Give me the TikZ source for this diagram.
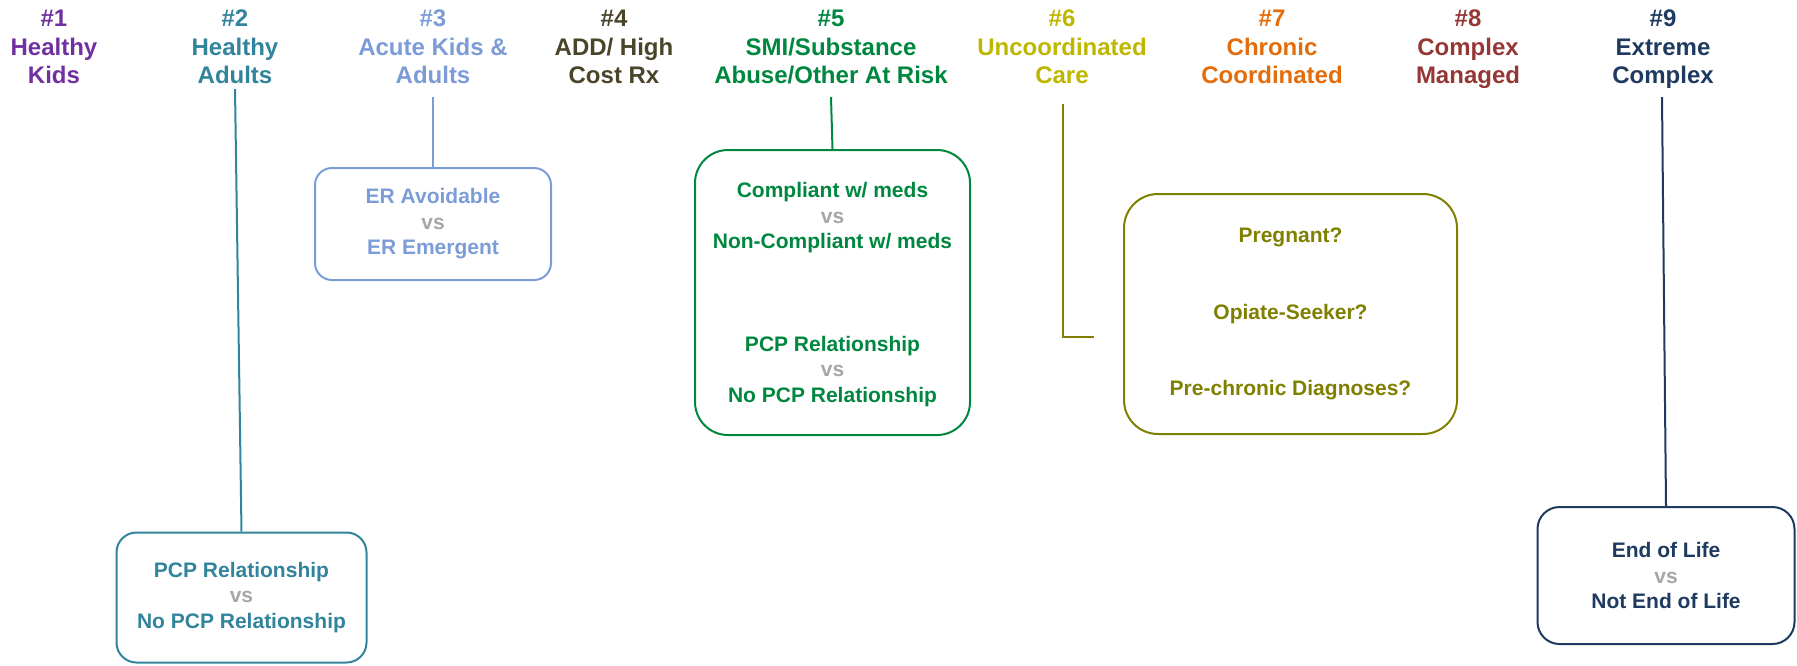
\documentclass[tikz,border=0pt]{standalone}
\usepackage{fontspec}
\setmainfont{Liberation Sans}
\definecolor{cPurple}{HTML}{7030A0}
\definecolor{cTeal}{HTML}{31849B}
\definecolor{cLBlue}{HTML}{7C9CD8}
\definecolor{cBrown}{HTML}{4A452A}
\definecolor{cGreen}{HTML}{00873F}
\definecolor{cYellow}{HTML}{BDB700}
\definecolor{cOlive}{HTML}{7F7F00}
\definecolor{cOrange}{HTML}{E46C0A}
\definecolor{cRed}{HTML}{953735}
\definecolor{cNavy}{HTML}{1F3A60}
\definecolor{vsgray}{HTML}{A6A6A6}
\newcommand{\vsx}{{\color{vsgray}vs}}
\tikzset{
  hdr/.style={align=center, inner sep=0pt, text depth=0pt, font=\bfseries\fontsize{24}{28.5}\selectfont},
  catbox/.style={draw, rounded corners=#1, line width=2pt, align=center, inner sep=0pt,
    font=\bfseries\fontsize{21}{25.5}\selectfont},
  conn/.style={line width=2pt}
}
\begin{document}
\begin{tikzpicture}[x=1pt,y=-1pt]
\useasboundingbox (0,0) rectangle (1797,665);
% headers
\node[hdr, text=cPurple] (h1) at (54,47) {\#1\\Healthy\\Kids};
\node[hdr, text=cTeal] (h2) at (235,47) {\#2\\Healthy\\Adults};
\node[hdr, text=cLBlue] (h3) at (433,47) {\#3\\Acute Kids \&\\Adults};
\node[hdr, text=cBrown] (h4) at (614,47) {\#4\\ADD/ High\\Cost Rx};
\node[hdr, text=cGreen] (h5) at (831,47) {\#5\\SMI/Substance\\Abuse/Other At Risk};
\node[hdr, text=cYellow] (h6) at (1062,47) {\#6\\Uncoordinated\\Care};
\node[hdr, text=cOrange] (h7) at (1272,47) {\#7\\Chronic\\Coordinated};
\node[hdr, text=cRed] (h8) at (1468,47) {\#8\\Complex\\Managed};
\node[hdr, text=cNavy] (h9) at (1663,47) {\#9\\Extreme\\Complex};
% boxes
\node[catbox=20pt, draw=cTeal, text=cTeal, minimum width=250pt, minimum height=130pt] (b2) at (241.5,597.5)
  {PCP Relationship\\\vsx\\No PCP Relationship};
\node[catbox=17pt, draw=cLBlue, text=cLBlue, minimum width=236pt, minimum height=112pt] (b3) at (433,224)
  {ER Avoidable\\\vsx\\ER Emergent};
\node[catbox=33pt, draw=cGreen, text=cGreen, minimum width=275pt, minimum height=285pt, text depth=-6pt] (b5) at (832.5,292.5)
  {Compliant w/ meds\\\vsx\\Non-Compliant w/ meds\\[77pt]PCP Relationship\\\vsx\\No PCP Relationship};
\node[catbox=34pt, draw=cOlive, text=cOlive, minimum width=333pt, minimum height=240pt] (b6) at (1290.5,314)
  {Pregnant?\\[51pt]Opiate-Seeker?\\[51pt]Pre-chronic Diagnoses?};
\node[catbox=22pt, draw=cNavy, text=cNavy, minimum width=257pt, minimum height=137pt] (b9) at (1666,575.5)
  {End of Life\\\vsx\\Not End of Life};
% connector start points
\coordinate (c2) at (235,89);
\coordinate (c3) at (433,97);
\coordinate (c5) at (831,97);
\coordinate (c6a) at (1063,104);
\coordinate (c6b) at (1094,337);
\coordinate (c9) at (1662,97);
% connectors
\draw[conn, cTeal] (c2) -- (b2.north);
\draw[conn, cLBlue] (c3) -- (b3.north);
\draw[conn, cGreen] (c5) -- (b5.north);
\draw[conn, cOlive] (c6a) |- (c6b);
\draw[conn, cNavy] (c9) -- (b9.north);
\end{tikzpicture}
\end{document}
